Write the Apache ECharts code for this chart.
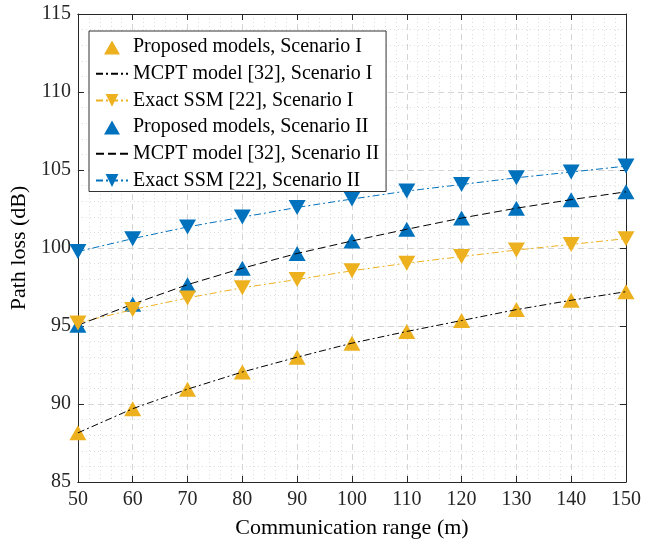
<!DOCTYPE html>
<html>
<head>
<meta charset="utf-8">
<script src="https://cdn.jsdelivr.net/npm/echarts@6/dist/echarts.min.js"></script>
<style>html,body{margin:0;padding:0;background:#fff}#c{width:653px;height:544px}</style>
</head>
<body>
<div id="c"></div>
<script>
const ranges = [50, 60, 70, 80, 90, 100, 110, 120, 130, 140, 150];
const proposedI = [88.15, 89.7, 90.95, 92.05, 93.0, 93.9, 94.65, 95.35, 96.05, 96.65, 97.2];
const mcptI = [88.15, 89.7, 90.95, 92.05, 93.0, 93.9, 94.65, 95.35, 96.05, 96.65, 97.2];
const exactI = [95.2, 96.05, 96.8, 97.45, 97.98, 98.54, 99.03, 99.45, 99.87, 100.23, 100.6];
const proposedII = [95.05, 96.4, 97.65, 98.7, 99.65, 100.45, 101.2, 101.92, 102.55, 103.1, 103.6];
const mcptII = [95.05, 96.4, 97.65, 98.7, 99.65, 100.45, 101.2, 101.92, 102.55, 103.1, 103.6];
const exactII = [99.77, 100.6, 101.35, 101.98, 102.6, 103.14, 103.65, 104.07, 104.5, 104.87, 105.25];
const xTicks = [50, 150, 10];
const yTicks = [85, 115, 5];

const YEL = '#EDB120', BLU = '#0072BD';
const FONT = "'Liberation Serif','Times New Roman',serif";
const pts = arr => ranges.map((x, i) => [x, arr[i]]);
const dashDot = [7, 3, 2, 3];
const TRI_ICON = 'path://M0,0 M32,15 M8,15 L16,1 L24,15 Z';

const chart = echarts.init(document.getElementById('c'), null, {renderer: 'canvas'});
const baseX = {
  type: 'value', min: xTicks[0], max: xTicks[1], interval: xTicks[2],
  axisLine: {show: true, lineStyle: {color: '#262626', width: 1}},
  axisTick: {show: true, inside: true, length: 6, lineStyle: {color: '#262626'}},
};
const baseY = {
  type: 'value', min: yTicks[0], max: yTicks[1], interval: yTicks[2],
  axisLine: {show: true, lineStyle: {color: '#262626', width: 1}},
  axisTick: {show: true, inside: true, length: 6, lineStyle: {color: '#262626'}},
};
const names = ['Proposed models, Scenario I', 'MCPT model [32], Scenario I', 'Exact SSM [22], Scenario I',
               'Proposed models, Scenario II', 'MCPT model [32], Scenario II', 'Exact SSM [22], Scenario II'];
chart.setOption({
  backgroundColor: '#fff',
  animation: false,
  textStyle: {fontFamily: FONT},
  grid: {left: 73, top: 14, right: 27, bottom: 54, containLabel: false},
  xAxis: [
    Object.assign({}, baseX, {
      position: 'bottom',
      name: 'Communication range (m)', nameLocation: 'middle', nameGap: 35,
      nameTextStyle: {fontFamily: FONT, fontSize: 22, color: '#000'},
      axisLabel: {fontFamily: FONT, fontSize: 20, color: '#262626', margin: 8},
      splitLine: {show: true, lineStyle: {color: '#d4d4d4', type: [6, 4], width: 1}},
      minorTick: {show: false, splitNumber: 5},
      minorSplitLine: {show: true, lineStyle: {color: '#dcdcdc', type: [1, 3], width: 1}}
    }),
    Object.assign({}, baseX, {
      position: 'top', axisLabel: {show: false}, splitLine: {show: false}
    })
  ],
  yAxis: [
    Object.assign({}, baseY, {
      position: 'left',
      name: 'Path loss (dB)', nameLocation: 'middle', nameGap: 41,
      nameTextStyle: {fontFamily: FONT, fontSize: 22, color: '#000'},
      axisLabel: {fontFamily: FONT, fontSize: 20, color: '#262626', margin: 7},
      splitLine: {show: true, lineStyle: {color: '#d4d4d4', type: [6, 4], width: 1}},
      minorTick: {show: false, splitNumber: 5},
      minorSplitLine: {show: true, lineStyle: {color: '#dcdcdc', type: [1, 3], width: 1}}
    }),
    Object.assign({}, baseY, {
      position: 'right', axisLabel: {show: false}, splitLine: {show: false}
    })
  ],
  legend: {
    orient: 'vertical', left: 89, top: 31,
    padding: [6, 7, 1, 6],
    itemWidth: 32, itemHeight: 16, itemGap: 6.7,
    backgroundColor: '#fff', borderColor: '#333', borderWidth: 1,
    textStyle: {fontFamily: FONT, fontSize: 20, lineHeight: 20, color: '#000'},
    data: [
      {name: names[0], icon: TRI_ICON},
      {name: names[1]},
      {name: names[2]},
      {name: names[3], icon: TRI_ICON},
      {name: names[4]},
      {name: names[5]}
    ]
  },
  series: [
    {name: names[0], type: 'scatter', data: pts(proposedI),
     symbol: 'triangle', symbolSize: [17, 15], itemStyle: {color: YEL, opacity: 1}},
    {name: names[1], type: 'line', data: pts(mcptI), symbol: 'circle', showSymbol: false,
     lineStyle: {color: '#000', width: 1, type: dashDot}, itemStyle: {color: 'rgba(0,0,0,0)'}},
    {name: names[2], type: 'line', data: pts(exactI),
     symbol: 'triangle', symbolRotate: 180, symbolSize: [17, 15], showAllSymbol: true,
     lineStyle: {color: YEL, width: 1, type: dashDot}, itemStyle: {color: YEL}},
    {name: names[3], type: 'scatter', data: pts(proposedII),
     symbol: 'triangle', symbolSize: [17, 15], itemStyle: {color: BLU, opacity: 1}},
    {name: names[4], type: 'line', data: pts(mcptII), symbol: 'circle', showSymbol: false,
     lineStyle: {color: '#000', width: 1, type: [8, 4]}, itemStyle: {color: 'rgba(0,0,0,0)'}},
    {name: names[5], type: 'line', data: pts(exactII),
     symbol: 'triangle', symbolRotate: 180, symbolSize: [17, 15], showAllSymbol: true,
     lineStyle: {color: BLU, width: 1, type: dashDot}, itemStyle: {color: BLU}}
  ]
});
</script>
</body>
</html>
